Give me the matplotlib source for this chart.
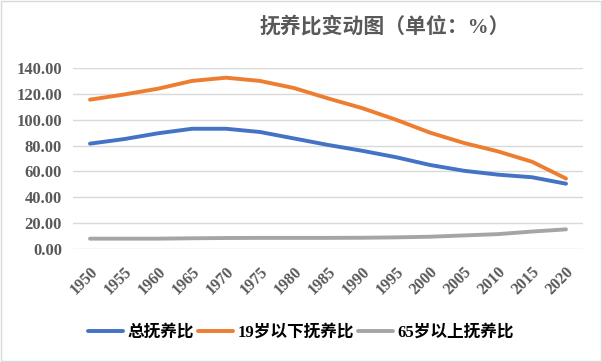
import numpy as np
import matplotlib.pyplot as plt

plt.rcParams['font.family'] = ['Liberation Serif', 'Noto Sans CJK SC']

years = [1950, 1955, 1960, 1965, 1970, 1975, 1980, 1985, 1990, 1995,
         2000, 2005, 2010, 2015, 2020]
total = [81.5, 85.0, 89.5, 93.0, 93.0, 90.5, 85.5, 80.5, 76.0, 71.0,
         65.0, 60.5, 57.5, 55.5, 50.5]
young = [115.5, 119.5, 124.0, 130.0, 132.5, 130.0, 124.5, 116.5, 109.0, 100.0,
         90.0, 82.0, 75.5, 67.5, 54.5]
old = [8.0, 8.0, 8.0, 8.3, 8.5, 8.6, 8.6, 8.6, 8.7, 9.0,
       9.5, 10.5, 11.5, 13.5, 15.2]
labels = ['总抚养比', '19岁以下抚养比', '65岁以上抚养比']
colors = ['#4472C4', '#ED7D31', '#A5A5A5']

fig = plt.figure(figsize=(6.02, 3.62), dpi=100)
ax = fig.add_axes([73 / 602, 1 - 249 / 362, 510 / 602, 181 / 362])

x = np.arange(len(years))
for vals, lab, c in zip([total, young, old], labels, colors):
    ax.plot(x, vals, color=c, lw=2.8, label=lab, solid_capstyle='round')

ax.set_xlim(-0.5, len(years) - 0.5)
ax.set_ylim(0, 140)
ax.set_yticks(np.arange(0, 141, 20))
ax.set_yticklabels([f'{v:.2f}' for v in np.arange(0, 141, 20)])
ax.set_xticks(x)
ax.set_xticklabels([str(y) for y in years], rotation=45, ha='right',
                   rotation_mode='anchor')
ax.grid(axis='y', color='#D9D9D9', lw=1)
ax.set_axisbelow(True)
for s in ax.spines.values():
    s.set_visible(False)
ax.tick_params(length=0, colors='#595959', labelsize=12)
ax.tick_params(axis='x', pad=11, labelsize=11.5)
ax.tick_params(axis='y', pad=8)
for t in ax.get_xticklabels() + ax.get_yticklabels():
    t.set_fontweight('bold')

fig.text(0.64, 0.925, '抚养比变动图（单位：%）', ha='center', va='center',
         fontsize=15, fontweight='bold', color='#595959')

leg = fig.legend(loc='center', bbox_to_anchor=(0.5, 0.08), ncol=3,
                 frameon=False, handlelength=2.1, handletextpad=0.25,
                 columnspacing=0.25, prop={'size': 12, 'weight': 'bold'})

fig.patches.append(plt.Rectangle((0.002, 0.003), 0.996, 0.994,
                                 transform=fig.transFigure, fill=False,
                                 edgecolor='#D9D9D9', lw=1))

plt.savefig('out.png', dpi=100)
